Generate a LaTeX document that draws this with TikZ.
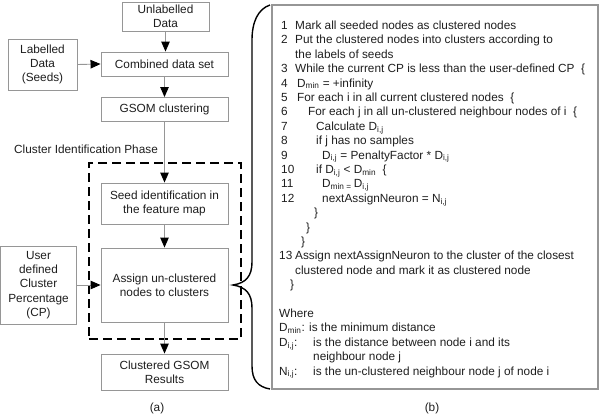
\documentclass[tikz,border=0pt]{standalone}
\usepackage{fontspec}
\setmainfont{Liberation Sans}
\usetikzlibrary{arrows.meta}
\definecolor{boxgray}{RGB}{150,150,150}
\definecolor{txtcol}{RGB}{30,30,30}
\newcommand{\aln}[4]{\node[txt] (#1) at (#2,{29.5+14.4*#3}) {#4};}
\begin{document}
\begin{tikzpicture}[x=1pt,y=-1pt,
  every node/.style={font=\fontsize{11.8}{14.4}\selectfont, inner sep=0pt, text=txtcol},
  box/.style={draw=boxgray, line width=0.9pt, align=center, fill=white},
  conn/.style={draw=boxgray, line width=0.9pt, -{Triangle[length=10pt,width=8.5pt,color=black]}},
  dashbox/.style={draw=black, line width=2pt, dash pattern=on 9pt off 5pt},
  txt/.style={anchor=base west},
]
\useasboundingbox (0,0) rectangle (600,416);

% ---- left flow (a) ----
\node[dashbox, minimum width=152pt, minimum height=176pt] (dash) at (165,251) {};
\node[box, minimum width=87pt, minimum height=29pt] (unl) at (165.5,16.5) {Unlabelled\\Data};
\node[box, minimum width=69pt, minimum height=51pt] (lab) at (42.5,64.5) {Labelled\\Data\\(Seeds)};
\node[box, minimum width=127pt, minimum height=24pt] (comb) at (164.5,64) {Combined data set};
\node[box, minimum width=127pt, minimum height=24pt] (gsom) at (164.5,109.5) {GSOM clustering};
\node[anchor=west] (phase) at (14,149) {Cluster Identification Phase};
\node[box, minimum width=127pt, minimum height=41pt] (seed) at (164.5,203.5) {Seed identification in\\the feature map};
\node[box, minimum width=127pt, minimum height=74pt] (assign) at (164.5,285) {Assign un-clustered\\nodes to clusters};
\node[box, minimum width=76pt, minimum height=78pt] (user) at (38.5,285) {User\\defined\\Cluster\\Percentage\\(CP)};
\node[box, minimum width=127pt, minimum height=36pt] (res) at (164.5,372) {Clustered GSOM\\Results};
\node (la) at (157,408) {(a)};

\draw[conn] (unl.south) -- (unl.south |- comb.north);
\draw[conn] (lab.east) -- (comb.west);
\draw[conn] (comb.south) -- (gsom.north);
\draw[conn] (gsom.south) -- (seed.north);
\draw[conn] (seed.south) -- (assign.north);
\draw[conn] (user.east) -- (assign.west);
\draw[conn] (assign.south) -- (res.north);

% ---- brace ----
\draw[line width=1.4pt, black] (270,5) .. controls (258,9) and (252,22) .. (252,40) -- (252,262)
  .. controls (252,276) and (246,283) .. (233,285)
  .. controls (246,287) and (252,294) .. (252,308) -- (252,366)
  .. controls (252,380) and (258,387) .. (270,389);

% ---- right panel (b) ----
\node[draw=boxgray, line width=1.3pt, minimum width=326pt, minimum height=384pt] (algo) at (435,197) {};

\aln{n1}{281}{0}{1}
\aln{t1}{295}{0}{Mark all seeded nodes as clustered nodes}
\aln{n2}{281}{1}{2}
\aln{t2}{295}{1}{Put the clustered nodes into clusters according to}
\aln{t2b}{295}{2}{the labels of seeds}
\aln{n3}{281}{3}{3}
\aln{t3}{295}{3}{While the current CP is less than the user-defined CP\ \ \{}
\aln{n4}{281}{4}{4}
\aln{t4}{297}{4}{D\textsubscript{min} = +infinity}
\aln{n5}{281}{5}{5}
\aln{t5}{297}{5}{For each i in all current clustered nodes\ \ \{}
\aln{n6}{281}{6}{6}
\aln{t6}{308}{6}{For each j in all un-clustered neighbour nodes of i\ \ \{}
\aln{n7}{281}{7}{7}
\aln{t7}{316}{7}{Calculate D\textsubscript{i,j}}
\aln{n8}{281}{8}{8}
\aln{t8}{316}{8}{if j has no samples}
\aln{n9}{281}{9}{9}
\aln{t9}{322}{9}{D\textsubscript{i,j} = PenaltyFactor * D\textsubscript{i,j}}
\aln{n10}{281}{10}{10}
\aln{t10}{316}{10}{if D\textsubscript{i,j} < D\textsubscript{min}\ \ \{}
\aln{n11}{281}{11}{11}
\aln{t11}{322}{11}{D\textsubscript{min = }D\textsubscript{i,j}}
\aln{n12}{281}{12}{12}
\aln{t12}{322}{12}{nextAssignNeuron = N\textsubscript{i,j}}
\aln{c1}{314}{13}{\}}
\aln{c2}{306}{14}{\}}
\aln{c3}{301}{15}{\}}
\aln{n13}{279}{16}{13}
\aln{t13}{295}{16}{Assign nextAssignNeuron to the cluster of the closest}
\aln{t13b}{295}{17}{clustered node and mark it as clustered node}
\aln{c4}{290}{18}{\}}
\aln{w}{279}{20}{Where}
\aln{d1}{279}{21}{D\textsubscript{min}: is the minimum distance}
\aln{d2}{279}{22}{D\textsubscript{i,j}:}
\aln{d2t}{313}{22}{is the distance between node i and its}
\aln{d2b}{313}{23}{neighbour node j}
\aln{d3}{279}{24}{N\textsubscript{i,j}:}
\aln{d3t}{313}{24}{is the un-clustered neighbour node j of node i}

\node (lb) at (432,408) {(b)};
\end{tikzpicture}
\end{document}
